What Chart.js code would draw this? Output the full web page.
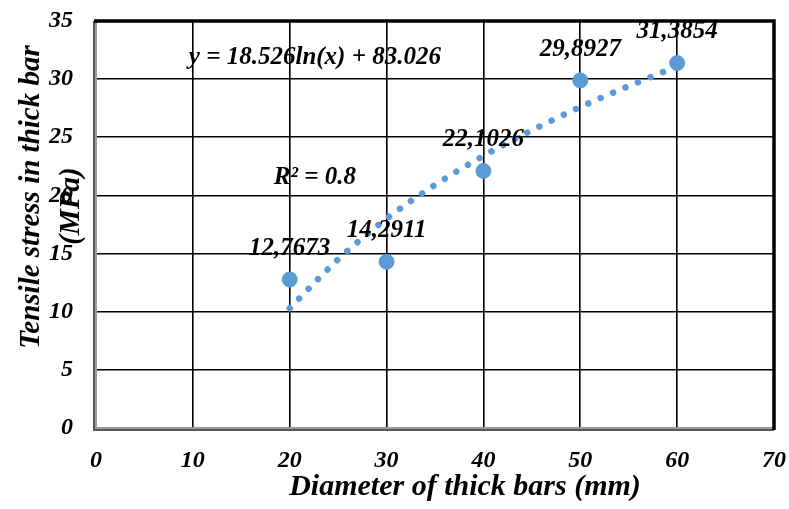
<!DOCTYPE html>
<html>
<head>
<meta charset="utf-8">
<script src="https://cdn.jsdelivr.net/npm/chart.js@4/dist/chart.umd.min.js"></script>
<style>
  html, body { margin: 0; padding: 0; background: #ffffff; }
  #wrap { width: 789px; height: 509px; }
</style>
</head>
<body>
<div id="wrap"><canvas id="c" width="789" height="509"></canvas></div>
<script>
// ---- data ----
const diameters = [20, 30, 40, 50, 60];
const stresses = [12.7673, 14.2911, 22.1026, 29.8927, 31.3854];
// dotted logarithmic trendline
const trendX = [20, 25, 30, 35, 40, 45, 50, 55, 60];
const trendY = [10.3, 14.5, 18.0, 20.9, 23.4, 25.6, 27.6, 29.4, 31.1];
const xTicks = [0, 10, 20, 30, 40, 50, 60, 70];
const yTicks = [0, 5, 10, 15, 20, 25, 30, 35];
const xTitle = 'Diameter of thick bars (mm)';
const yTitleLines = ['Tensile stress in thick bar', '(MPa)'];
const equationText = 'y = 18.526ln(x) + 83.026';
const r2Text = 'R\u00B2 = 0.8';

const SERIF = '"Liberation Serif", "Times New Roman", serif';
const BLUE = '#5B9BD5';

const pointData = diameters.map((d, i) => ({ x: d, y: stresses[i] }));
const trendData = trendX.map((d, i) => ({ x: d, y: trendY[i] }));

function noEdgePadding(s) {
  s.paddingTop = 0; s.paddingBottom = 0; s.paddingLeft = 0; s.paddingRight = 0;
}

const overlay = {
  id: 'overlay',
  afterDatasetsDraw(chart) {
    const ctx = chart.ctx;
    const xs = chart.scales.x, ys = chart.scales.y;
    const ca = chart.chartArea;
    ctx.save();
    // frame
    ctx.lineCap = 'butt';
    ctx.strokeStyle = '#9a9a9a';
    ctx.lineWidth = 4;
    ctx.beginPath();
    ctx.moveTo(ca.left - 1, ca.top);
    ctx.lineTo(ca.left - 1, ca.bottom + 1);
    ctx.lineTo(ca.right, ca.bottom + 1);
    ctx.stroke();
    ctx.strokeStyle = '#444';
    ctx.lineWidth = 1.5;
    ctx.beginPath();
    ctx.moveTo(ca.left - 2, ca.top);
    ctx.lineTo(ca.left - 2, ca.bottom + 2);
    ctx.lineTo(ca.right, ca.bottom + 2);
    ctx.stroke();
    ctx.strokeStyle = '#000';
    ctx.lineWidth = 3.5;
    ctx.beginPath();
    ctx.moveTo(ca.left - 2, ca.top);
    ctx.lineTo(ca.right, ca.top);
    ctx.lineTo(ca.right, ca.bottom + 2);
    ctx.stroke();

    // data labels
    ctx.fillStyle = '#000';
    ctx.textAlign = 'center';
    ctx.textBaseline = 'middle';
    ctx.font = 'italic bold 25px ' + SERIF;
    const meta = chart.getDatasetMeta(0);
    meta.data.forEach((el, i) => {
      const txt = stresses[i].toFixed(4).replace('.', ',');
      ctx.fillText(txt, el.x, el.y - 31);
    });

    // trendline equation and R²
    ctx.font = 'italic bold 25px ' + SERIF;
    ctx.fillText(equationText, xs.getPixelForValue(22.6), ys.getPixelForValue(31.9));
    ctx.fillText(r2Text, xs.getPixelForValue(22.6), ys.getPixelForValue(21.53));

    // x axis title
    ctx.font = 'italic bold 30px ' + SERIF;
    ctx.textBaseline = 'alphabetic';
    ctx.fillText(xTitle, 465, 495);

    // y axis title (two lines, rotated)
    ctx.textBaseline = 'middle';
    ctx.font = 'italic bold 29px ' + SERIF;
    ctx.save();
    ctx.translate(32, 197);
    ctx.rotate(-Math.PI / 2);
    ctx.fillText(yTitleLines[0], 0, 0);
    ctx.restore();
    ctx.save();
    ctx.translate(72, 206);
    ctx.rotate(-Math.PI / 2);
    ctx.fillText(yTitleLines[1], 0, 0);
    ctx.restore();
    ctx.restore();
  }
};

new Chart(document.getElementById('c'), {
  type: 'scatter',
  data: {
    datasets: [
      {
        label: 'Tensile stress',
        data: pointData,
        backgroundColor: BLUE,
        borderColor: BLUE,
        pointRadius: 7.5,
        pointHoverRadius: 7.5,
        order: 0
      },
      {
        label: 'Log. trend',
        type: 'line',
        data: trendData,
        showLine: true,
        borderColor: BLUE,
        borderWidth: 6.5,
        borderDash: [0.01, 13.5],
        borderCapStyle: 'round',
        cubicInterpolationMode: 'monotone',
        pointRadius: 0,
        fill: false,
        order: 1
      }
    ]
  },
  options: {
    responsive: false,
    animation: false,
    devicePixelRatio: 1,
    layout: { padding: { top: 21, right: 15, left: 0, bottom: 0 } },
    plugins: {
      legend: { display: false },
      tooltip: { enabled: false }
    },
    scales: {
      x: {
        type: 'linear',
        min: 0, max: 70,
        afterBuildTicks(s) { s.ticks = xTicks.map(v => ({ value: v })); },
        afterFit(s) { s.height = 81; noEdgePadding(s); },
        grid: { color: '#000', lineWidth: 1.6, drawTicks: false },
        border: { display: false },
        ticks: {
          padding: 18,
          color: '#000',
          font: { family: SERIF, size: 24, style: 'italic', weight: 'bold' },
          maxRotation: 0
        },
        title: { display: false, text: xTitle }
      },
      y: {
        type: 'linear',
        min: 0, max: 35,
        afterBuildTicks(s) { s.ticks = yTicks.map(v => ({ value: v })); },
        afterFit(s) { s.width = 96; noEdgePadding(s); },
        grid: { color: '#000', lineWidth: 1.6, drawTicks: false },
        border: { display: false },
        ticks: {
          padding: 23,
          color: '#000',
          font: { family: SERIF, size: 24, style: 'italic', weight: 'bold' }
        },
        title: { display: false, text: yTitleLines }
      }
    }
  },
  plugins: [overlay]
});
</script>
</body>
</html>
